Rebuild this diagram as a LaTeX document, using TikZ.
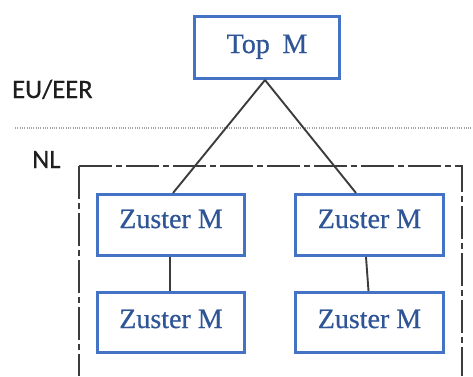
\documentclass[tikz,border=0pt]{standalone}
\usepackage{fontspec}
\setmainfont{Liberation Serif}[FakeBold=0.5]
\newfontfamily\entityfont{Liberation Serif}[FakeBold=0.5]
\newfontfamily\labelfont{Carlito}[FakeBold=0.6]
\definecolor{boxblue}{RGB}{68,114,196}
\definecolor{textblue}{RGB}{47,85,151}
\definecolor{linegray}{RGB}{60,60,60}
\definecolor{labelgray}{RGB}{30,30,30}
\definecolor{dotgray}{RGB}{170,160,170}
\begin{document}
\begin{tikzpicture}[x=1pt,y=-1pt,
  entity/.style={draw=boxblue, line width=3pt, fill=white, text=textblue,
    font=\entityfont\fontsize{28}{30}\selectfont, inner sep=0pt},
  conn/.style={draw=linegray, line width=1.9pt},
  regionlabel/.style={font=\labelfont\fontsize{26.5}{28}\selectfont, text=labelgray, inner sep=0pt, anchor=base west},
  regionbox/.style={draw=linegray, line width=1.8pt, dash pattern=on 33pt off 4pt on 6pt off 4pt},
  boundary/.style={draw=dotgray, line width=1.1pt, dash pattern=on 1pt off 1.3pt}]
\useasboundingbox (0,0) rectangle (473,376);
\fill[white] (0,0) rectangle (473,376);

% EU/EER boundary
\draw[boundary] (15,128) -- (473,128);

% NL region (open at the bottom)
\draw[regionbox] (79,166) -- (462,166) -- (462,376);
\draw[regionbox] (79,166) -- (79,376);

% labels
\node[regionlabel] (eu) at (12,98) {EU/EER};
\node[regionlabel] (nl) at (32,168) {NL};

% entities
\node[entity, minimum width=145pt, minimum height=62pt, text height=20pt, text depth=9pt] (top) at (267,47.5) {Top\hspace{0.45em}M};
\node[entity, minimum width=147pt, minimum height=61pt, text height=18pt, text depth=12pt] (zl1) at (171,225) {Zuster M};
\node[entity, minimum width=147pt, minimum height=60pt, text height=18pt, text depth=7pt] (zl2) at (171,322.5) {Zuster M};
\node[entity, minimum width=148pt, minimum height=61pt, text height=18pt, text depth=12pt] (zr1) at (369.5,225) {Zuster M};
\node[entity, minimum width=148pt, minimum height=60pt, text height=18pt, text depth=7pt] (zr2) at (369.5,322.5) {Zuster M};

% connectors
\draw[conn] ([xshift=-2pt]top.south) -- ([xshift=2pt]zl1.north);
\draw[conn] ([xshift=-2pt]top.south) -- ([xshift=-13.5pt]zr1.north);
\draw[conn] ([xshift=-1pt]zl1.south) -- ([xshift=-1pt]zl2.north);
\draw[conn] ([xshift=-3.5pt]zr1.south) -- ([xshift=-1pt]zr2.north);
\end{tikzpicture}
\end{document}
